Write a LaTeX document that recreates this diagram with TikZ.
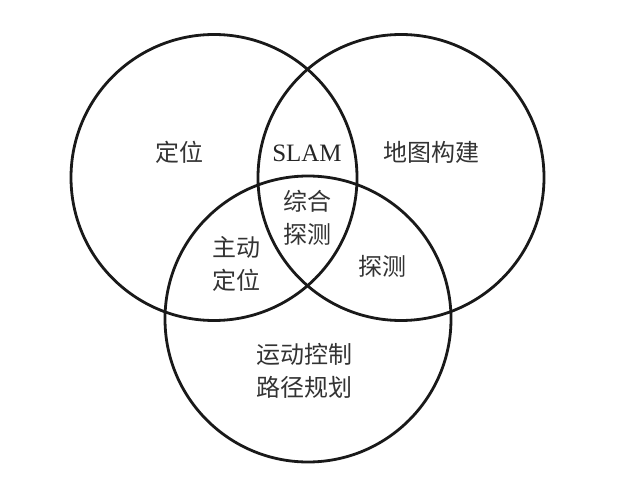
\documentclass[tikz,border=0pt]{standalone}
\usepackage{fontspec}
\setmainfont{Liberation Serif}
\newfontfamily\cjk{Noto Sans CJK SC}
\begin{document}
\begin{tikzpicture}[x=1pt,y=-1pt]
\def\R{143};
\tikzset{ring/.style={line width=2.8pt, color=black!90},
  label/.style={font=\cjk\fontsize{24}{33}\selectfont, align=center, color=black!80}}
\useasboundingbox (0,0) rectangle (626,497);
\coordinate (cL) at (214,177.5);
\coordinate (cR) at (401,177.5);
\coordinate (cB) at (308,319);
\draw[ring] (cL) circle (\R);
\draw[ring] (cR) circle (\R);
\draw[ring] (cB) circle (\R);
\node[label] (loc) at (179,152) {定位};
\node[font=\fontsize{25}{30}\selectfont, color=black!85] (slam) at (307,153) {SLAM};
\node[label] (map) at (431,152) {地图构建};
\node[label] (all) at (307,218) {综合\\探测};
\node[label] (act) at (236,264) {主动\\定位};
\node[label] (exp) at (382,266) {探测};
\node[label] (ctl) at (304,371) {运动控制\\路径规划};
\end{tikzpicture}
\end{document}
